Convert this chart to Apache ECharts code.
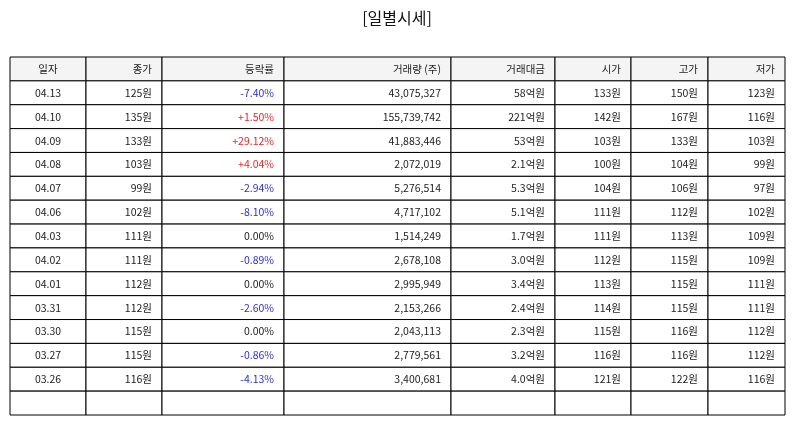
<!DOCTYPE html>
<html>
<head>
<meta charset="utf-8">
<script src="https://cdn.jsdelivr.net/npm/echarts@6/dist/echarts.min.js"></script>
<style>html,body{margin:0;padding:0;background:#fff}#main{width:794px;height:425px}</style>
</head>
<body>
<div id="main"></div>
<script>
const headers = ["일자", "종가", "등락률", "거래량 (주)", "거래대금", "시가", "고가", "저가"];
const dates = ["04.13", "04.10", "04.09", "04.08", "04.07", "04.06", "04.03", "04.02", "04.01", "03.31", "03.30", "03.27", "03.26"];
const closes = [125, 135, 133, 103, 99, 102, 111, 111, 112, 112, 115, 115, 116];
const changes = [-7.40, 1.50, 29.12, 4.04, -2.94, -8.10, 0.00, -0.89, 0.00, -2.60, 0.00, -0.86, -4.13];
const volumes = [43075327, 155739742, 41883446, 2072019, 5276514, 4717102, 1514249, 2678108, 2995949, 2153266, 2043113, 2779561, 3400681];
const amounts = [58, 221, 53, 2.1, 5.3, 5.1, 1.7, 3.0, 3.4, 2.4, 2.3, 3.2, 4.0]; // 억원
const opens = [133, 142, 103, 100, 104, 111, 111, 112, 113, 114, 115, 116, 121];
const highs = [150, 167, 133, 104, 106, 112, 113, 115, 115, 115, 116, 116, 122];
const lows = [123, 116, 103, 99, 97, 102, 109, 109, 111, 111, 112, 112, 116];

// column boundaries in axis units
const edges = [0, 76, 152, 274, 441, 545, 621, 698, 775];
const totalRows = dates.length + 2;

function fmtChange(v) {
  if (v > 0) return "+" + v.toFixed(2) + "%";
  return v.toFixed(2) + "%";
}
function chgColor(v) {
  return v > 0 ? "#e02b2b" : v < 0 ? "#3030c8" : "#222";
}
function fmtAmount(v) {
  return (v >= 10 ? v.toFixed(0) : v.toFixed(1)) + "억원";
}

const cells = [];
headers.forEach((h, c) => cells.push([c, 0, h, "#222", 1]));
dates.forEach((d, i) => {
  const r = i + 1;
  const row = [d, closes[i] + "원", fmtChange(changes[i]), volumes[i].toLocaleString("en-US"),
    fmtAmount(amounts[i]), opens[i] + "원", highs[i] + "원", lows[i] + "원"];
  row.forEach((t, c) => cells.push([c, r, t, c === 2 ? chgColor(changes[i]) : "#222", 0]));
});
for (let c = 0; c < headers.length; c++) cells.push([c, totalRows - 1, "", "#222", 0]);

const chart = echarts.init(document.getElementById("main"));
chart.setOption({
  title: {
    text: "[일별시세]", left: "center", top: 5,
    textStyle: { fontFamily: "Noto Sans CJK KR", fontSize: 16, fontWeight: "normal", color: "#111" }
  },
  grid: { left: 10, right: 9, top: 57, bottom: 10 },
  xAxis: { type: "value", min: 0, max: 775, show: false },
  yAxis: { type: "value", min: 0, max: totalRows, inverse: true, show: false },
  series: [{
    type: "custom",
    data: cells,
    renderItem: function (params, api) {
      const c = api.value(0), r = api.value(1);
      const d = cells[params.dataIndex];
      const p0 = api.coord([edges[c], r]);
      const p1 = api.coord([edges[c + 1], r + 1]);
      const w = p1[0] - p0[0], h = p1[1] - p0[1];
      const isHeader = d[4] === 1;
      const center = c === 0;
      return {
        type: "group",
        children: [
          { type: "rect", shape: { x: p0[0], y: p0[1], width: w, height: h },
            style: { fill: isHeader ? "#f4f4f4" : "#fff", stroke: "#000", lineWidth: 1 } },
          { type: "text",
            style: {
              text: d[2], x: center ? p0[0] + w / 2 : p1[0] - 10, y: p0[1] + h / 2,
              align: center ? "center" : "right", verticalAlign: "middle",
              fontFamily: "Noto Sans CJK KR", fontSize: 10.5, fill: d[3]
            } }
        ]
      };
    }
  }]
});
</script>
</body>
</html>
